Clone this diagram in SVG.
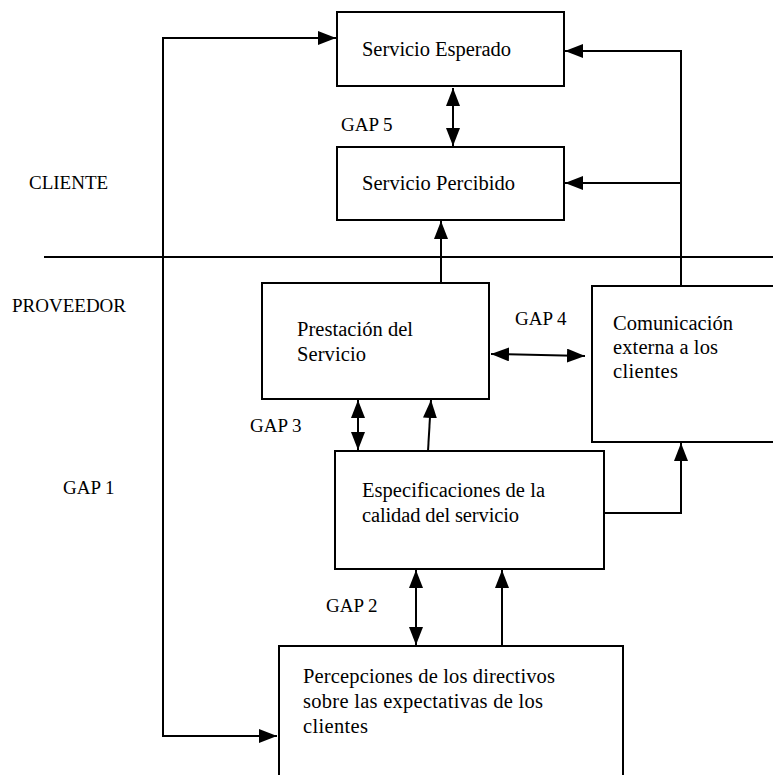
<svg xmlns="http://www.w3.org/2000/svg" width="773" height="775" viewBox="0 0 773 775" font-family="'Liberation Serif', 'Times New Roman', serif">
<style>
  .box { fill: #fff; stroke: #000; stroke-width: 2; }
  .ln { fill: none; stroke: #000; stroke-width: 2; }
  text { font-family: 'Liberation Serif', 'Times New Roman', serif; font-size: 20.5px; fill: #000; }
  .lbl { font-size: 19px; }
</style>
<defs>
  <marker id="ah" markerUnits="userSpaceOnUse" markerWidth="18" markerHeight="14" refX="18" refY="7" orient="auto-start-reverse">
    <path d="M0,0 L18,7 L0,14 Z" fill="#000"/>
  </marker>
</defs>
<rect width="773" height="775" fill="#fff"/>

<g id="labels">
  <text class="lbl" x="29" y="189">CLIENTE</text>
  <text class="lbl" x="12" y="312">PROVEEDOR</text>
  <text class="lbl" x="63" y="494">GAP 1</text>
  <text class="lbl" x="341" y="131">GAP 5</text>
  <text class="lbl" x="515" y="325">GAP 4</text>
  <text class="lbl" x="250" y="432">GAP 3</text>
  <text class="lbl" x="326" y="612">GAP 2</text>
</g>

<g id="divider">
  <path class="ln" d="M44,257 L773,257"/>
</g>

<g id="connectors">
  <path class="ln" d="M277,736 L163,736 L163,38 L336,38" marker-start="url(#ah)" marker-end="url(#ah)"/>
  <path class="ln" d="M453,88 L453,146" marker-start="url(#ah)" marker-end="url(#ah)"/>
  <path class="ln" d="M681,286 L681,51 L565,51" marker-end="url(#ah)"/>
  <path class="ln" d="M681,183 L565,183" marker-end="url(#ah)"/>
  <path class="ln" d="M441,283 L441,221" marker-end="url(#ah)"/>
  <path class="ln" d="M491,354 L585,356" marker-start="url(#ah)" marker-end="url(#ah)"/>
  <path class="ln" d="M358,400 L358,450" marker-start="url(#ah)" marker-end="url(#ah)"/>
  <path class="ln" d="M428,451 L431,400" marker-end="url(#ah)"/>
  <path class="ln" d="M605,513 L681,513 L681,443" marker-end="url(#ah)"/>
  <path class="ln" d="M416,570 L416,645" marker-start="url(#ah)" marker-end="url(#ah)"/>
  <path class="ln" d="M502,646 L502,570" marker-end="url(#ah)"/>
</g>

<g id="servicio-esperado">
  <rect class="box" x="337" y="12" width="227" height="74"/>
  <text x="362" y="56" textLength="149" lengthAdjust="spacing">Servicio Esperado</text>
</g>
<g id="servicio-percibido">
  <rect class="box" x="337" y="147" width="227" height="73"/>
  <text x="362" y="190" textLength="153" lengthAdjust="spacing">Servicio Percibido</text>
</g>
<g id="prestacion">
  <rect class="box" x="262" y="283" width="227" height="116"/>
  <text x="297" y="336" textLength="116" lengthAdjust="spacing">Prestación del</text>
  <text x="297" y="361" textLength="69" lengthAdjust="spacing">Servicio</text>
</g>
<g id="comunicacion">
  <rect class="box" x="592" y="286" width="200" height="156"/>
  <text x="613" y="330" textLength="120" lengthAdjust="spacing">Comunicación</text>
  <text x="613" y="354" textLength="105" lengthAdjust="spacing">externa a los</text>
  <text x="613" y="378" textLength="65" lengthAdjust="spacing">clientes</text>
</g>
<g id="especificaciones">
  <rect class="box" x="335" y="451" width="269" height="118"/>
  <text x="362" y="497" textLength="183" lengthAdjust="spacing">Especificaciones de la</text>
  <text x="362" y="522" textLength="157" lengthAdjust="spacing">calidad del servicio</text>
</g>
<g id="percepciones">
  <rect class="box" x="279" y="646" width="344" height="140"/>
  <text x="303" y="683" textLength="252" lengthAdjust="spacing">Percepciones de los directivos</text>
  <text x="303" y="708" textLength="240" lengthAdjust="spacing">sobre las expectativas de los</text>
  <text x="303" y="733" textLength="65" lengthAdjust="spacing">clientes</text>
</g>
</svg>
